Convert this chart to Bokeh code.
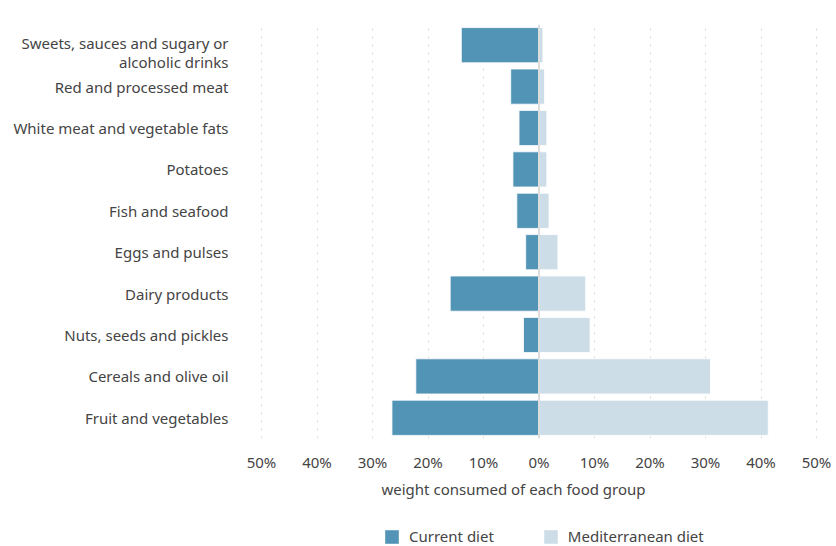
from bokeh.plotting import figure
from bokeh.layouts import column
from bokeh.models import (ColumnDataSource, FixedTicker, Legend, LegendItem, Span, FactorRange, Title)
from bokeh.core.properties import value
from bokeh.embed import file_html
from bokeh.resources import INLINE

categories = [
    "Fruit and vegetables",
    "Cereals and olive oil",
    "Nuts, seeds and pickles",
    "Dairy products",
    "Eggs and pulses",
    "Fish and seafood",
    "Potatoes",
    "White meat and vegetable fats",
    "Red and processed meat",
    "Sweets, sauces and sugary or\nalcoholic drinks",
]
current_diet = [26.5, 22.2, 2.8, 16.0, 2.4, 4.0, 4.7, 3.6, 5.1, 14.0]
mediterranean_diet = [41.3, 30.9, 9.2, 8.4, 3.4, 1.8, 1.4, 1.4, 1.0, 0.7]
tick_values = [-50, -40, -30, -20, -10, 0, 10, 20, 30, 40, 50]
tick_labels = ["50%", "40%", "30%", "20%", "10%", "0%", "10%", "20%", "30%", "40%", "50%"]
series_names = ["Current diet", "Mediterranean diet"]
x_label = "weight consumed of each food group"

FONT = "Noto Sans"
TXT = "#444444"
CUR = "#5294b6"
MED = "#cddde7"
X_START, X_END = -97.03, 52.88
LABEL_RIGHT = 228     # px from frame left where category labels end

src = ColumnDataSource(dict(
    cat=categories,
    cur=[-v for v in current_diet],
    med=mediterranean_diet,
    zero=[0] * len(categories),
    yoff=[7 if "\n" in c else 0 for c in categories],
))

p = figure(
    width=836, height=510,
    y_range=FactorRange(*categories, range_padding=0),
    x_range=(X_START, X_END),
    output_backend="svg", toolbar_location=None,
    min_border_left=0, min_border_right=4, min_border_top=24, min_border_bottom=72,
)
p.outline_line_color = None

p.hbar(y="cat", left="cur", right="zero", height=0.85, source=src,
       fill_color=CUR, line_color="white", line_width=0.8)
p.hbar(y="cat", left="zero", right="med", height=0.85, source=src,
       fill_color=MED, line_color="white", line_width=0.8)

p.add_layout(Span(location=0, dimension="height", line_color="#dddddd", line_width=2))

# category labels
p.text(x=X_START, y="cat", text="cat", source=src, x_offset=LABEL_RIGHT, y_offset="yoff",
       text_align="right", text_baseline="middle", text_font=value(FONT),
       text_font_size="15px", text_color=TXT, text_line_height=0.95)

p.yaxis.visible = False
p.ygrid.grid_line_color = None
p.xgrid.grid_line_color = "#d9d9d9"
p.xgrid.grid_line_dash = "2 6"
p.xgrid.grid_line_width = 1

p.xaxis.ticker = FixedTicker(ticks=tick_values)
p.xaxis.major_label_overrides = {v: l for v, l in zip(tick_values, tick_labels)}
p.xaxis.axis_line_color = None
p.xaxis.major_tick_line_color = None
p.xaxis.minor_tick_line_color = None
p.xaxis.major_tick_out = 0
p.xaxis.major_tick_in = 0
p.xaxis.major_label_text_font = FONT
p.xaxis.major_label_text_color = TXT
p.xaxis.major_label_text_font_size = "15px"
p.xaxis.major_label_standoff = 13

p.add_layout(Title(text=x_label, align="left", offset=381, standoff=4,
                   text_font=FONT, text_font_style="normal", text_font_size="15px",
                   text_color=TXT), "below")

# legend strip below the chart (its renderers have zero height and sit out of view)
lg = figure(width=836, height=36, x_range=(100, 200),
            y_range=FactorRange(*categories),
            output_backend="svg", toolbar_location=None,
            min_border=0, outline_line_color=None)
lg.axis.visible = False
lg.grid.visible = False
g1 = lg.hbar(y="cat", left="cur", right="zero", height=0, source=src,
             fill_color=CUR, line_color=None)
g2 = lg.hbar(y="cat", left="zero", right="med", height=0, source=src,
             fill_color=MED, line_color=None)
legend = Legend(items=[LegendItem(label=series_names[0], renderers=[g1]),
                       LegendItem(label=series_names[1], renderers=[g2])],
                orientation="horizontal", location=(383, 0),
                border_line_alpha=0, background_fill_alpha=0,
                glyph_width=17, glyph_height=17, spacing=48, label_standoff=9,
                label_text_font=FONT, label_text_font_size="15px", label_text_color=TXT,
                label_height=17, margin=0, padding=0)
lg.add_layout(legend)

open("out.html", "w").write(file_html(column(p, lg, spacing=0), INLINE))
